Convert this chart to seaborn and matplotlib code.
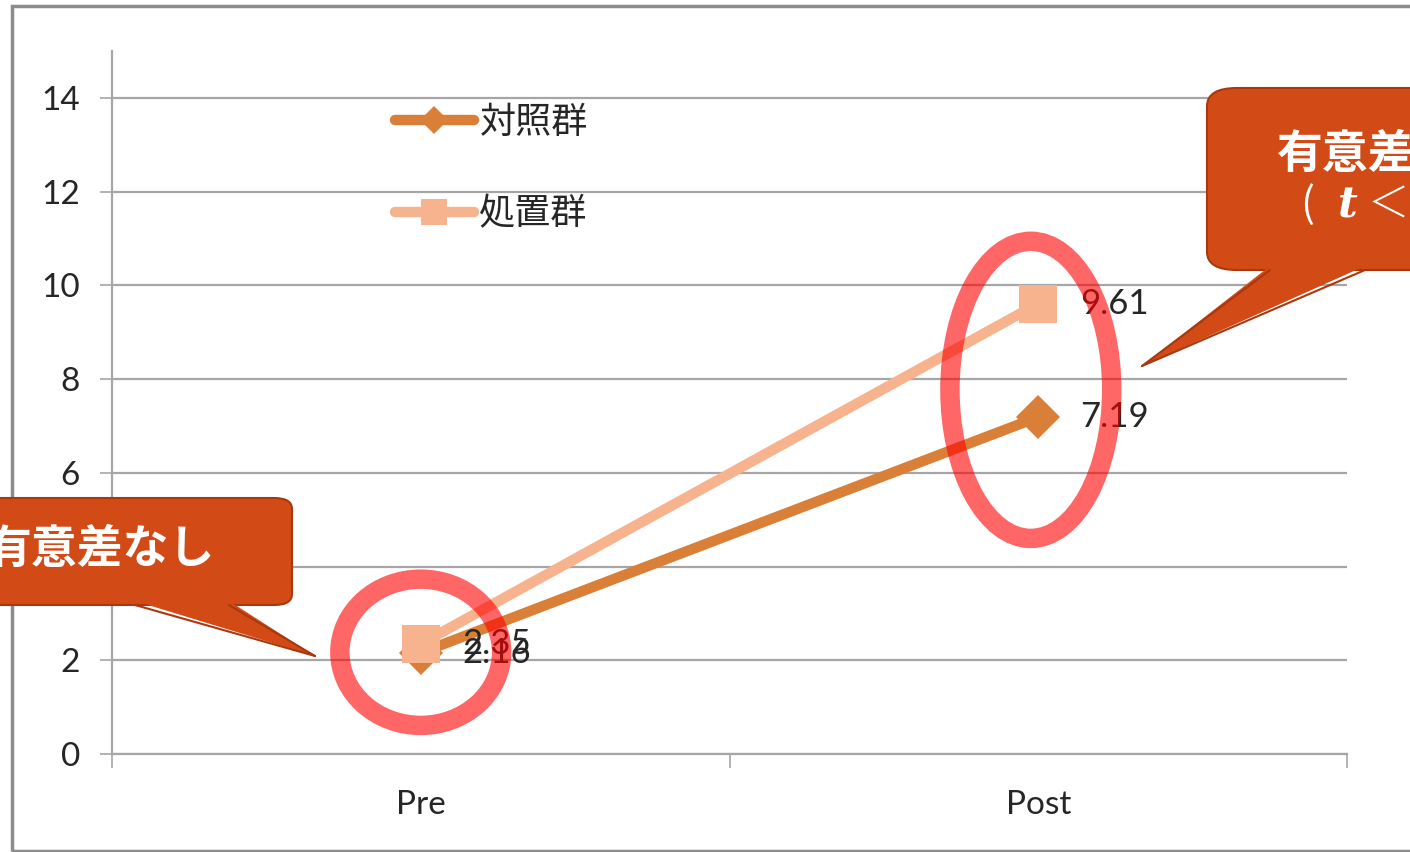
import matplotlib
matplotlib.use("Agg")
import matplotlib.pyplot as plt
import seaborn as sns
import pandas as pd
from matplotlib.patches import Ellipse, FancyBboxPatch, Polygon, Rectangle
from matplotlib.lines import Line2D

# ---- data ----
phases = ["Pre", "Post"]
control = [2.16, 7.19]
treatment = [2.35, 9.61]
series_names = ["対照群", "処置群"]
yticks = [0, 2, 4, 6, 8, 10, 12, 14]

sns.set_theme(style="white")
plt.rcParams["font.family"] = ["Lato", "Noto Sans CJK JP", "DejaVu Sans"]

W, H = 1410, 852
fig = plt.figure(figsize=(W / 100, H / 100), dpi=100)
fig.patch.set_facecolor("white")

def fx(px):
    return px / W

def fy(py):
    return 1 - py / H

ax = fig.add_axes([fx(112), fy(754), (1347 - 112) / W, (754 - 51) / H])

df = pd.DataFrame({
    "phase": phases * 2,
    "value": control + treatment,
    "group": [series_names[0]] * 2 + [series_names[1]] * 2,
})
colors = {series_names[0]: "#DA7F37", series_names[1]: "#F6B38E"}
markers = {series_names[0]: "D", series_names[1]: "s"}
msizes = {series_names[0]: 22, series_names[1]: 27}

for name in series_names:
    sub = df[df["group"] == name]
    sns.lineplot(data=sub, x="phase", y="value", ax=ax, color=colors[name],
                 linewidth=7.5, marker=markers[name], markersize=msizes[name],
                 markeredgewidth=0, legend=False, sort=False)

ax.set_xlim(-0.5, 1.5)
ax.set_ylim(0, 15)
ax.set_yticks(yticks)
ax.set_xticks(range(len(phases)))
ax.set_xticklabels(phases)
ax.set_xticks([-0.5, 0.5, 1.5], minor=True)
ax.set_xlabel("")
ax.set_ylabel("")

gc = "#A6A6A6"
ax.yaxis.grid(True, color=gc, linewidth=1.6)
ax.xaxis.grid(False)
ax.set_axisbelow(True)
for s in ["top", "right"]:
    ax.spines[s].set_visible(False)
for s in ["left", "bottom"]:
    ax.spines[s].set_color(gc)
    ax.spines[s].set_linewidth(1.6)

ax.tick_params(axis="y", which="major", left=True, length=9, width=1.2, color=gc,
               pad=14, labelsize=24, labelcolor="#262626")
ax.tick_params(axis="x", which="major", bottom=False, length=0, pad=26,
               labelsize=24, labelcolor="#262626")
ax.tick_params(axis="x", which="minor", bottom=True, length=10, width=1.2, color=gc)

# data labels
for vals, name in [(control, series_names[0]), (treatment, series_names[1])]:
    for i, v in enumerate(vals):
        ax.annotate(f"{v:.2f}", (i, v), xytext=(30, 0), textcoords="offset points",
                    va="center", ha="left", fontsize=25, color="#262626", zorder=6)

# legend
handles = [Line2D([], [], color=colors[n], linewidth=7.5, marker=markers[n],
                  markersize=(14 if n == series_names[0] else 19),
                  markeredgewidth=0, solid_capstyle="round") for n in series_names]
leg = ax.legend(handles, series_names, loc="upper left",
                bbox_to_anchor=(fx(362), fy(72)), bbox_transform=fig.transFigure,
                frameon=False, handlelength=2.2, handletextpad=0.15,
                labelspacing=1.55, prop={"family": ["Noto Sans CJK JP"], "size": 26})
for t in leg.get_texts():
    t.set_color("#262626")

# ellipses
ell_kw = dict(fill=False, edgecolor="#FF0000", alpha=0.6, linewidth=14, zorder=7)
ax.add_patch(Ellipse((0, 2.17), 0.262, 3.12, **ell_kw))
ax.add_patch(Ellipse((0.988, 7.77), 0.262, 6.34, **ell_kw))

# outer frame
fig.patches.append(Rectangle((fx(12), fy(851)), fx(1600), fy(6) - fy(851),
                             transform=fig.transFigure, fill=False,
                             edgecolor="#8C8C8C", linewidth=2.5, zorder=0))

# callouts
fill_c = "#D24B17"
edge_c = "#A9380F"

def callout(x0, y0, x1, y1, rad, tail_a, tail_b, tip):
    box = FancyBboxPatch((fx(x0), fy(y1)), fx(x1 - x0), fy(y0) - fy(y1),
                         boxstyle=f"round,pad=0,rounding_size={rad / W}",
                         transform=fig.transFigure, facecolor=fill_c,
                         edgecolor=edge_c, linewidth=1.5, zorder=10)
    fig.patches.append(box)
    pts = [(fx(tail_a), fy(y1 - 4)), (fx(tail_b), fy(y1 - 4)), (fx(tip[0]), fy(tip[1]))]
    fig.patches.append(Polygon(pts, closed=True, transform=fig.transFigure,
                               facecolor=fill_c, edgecolor="none", zorder=11))
    for xb in (tail_a, tail_b):
        fig.lines.append(Line2D([fx(xb), fx(tip[0])], [fy(y1), fy(tip[1])],
                                transform=fig.transFigure, color=edge_c,
                                linewidth=1.5, zorder=12))

callout(-30, 498, 292, 605, 18, 135, 229, (315, 656))
callout(1207, 88, 1600, 270, 30, 1270, 1365, (1142, 366))

tk = dict(color="white", fontweight="bold", family=["Noto Sans CJK JP"],
          fontsize=33, zorder=13, transform=fig.transFigure, va="center")
fig.text(fx(-14), fy(550), "有意差なし", ha="left", **tk)
fig.text(fx(1277), fy(155), "有意差あり", ha="left", **tk)
tk2 = dict(tk)
tk2["fontweight"] = "normal"
fig.text(fx(1300), fy(205), "(", ha="left", color="white", fontsize=30,
         family=["Noto Sans CJK JP"], zorder=13, transform=fig.transFigure, va="center")
fig.text(fx(1338), fy(206), "t", ha="left", color="white", fontsize=31,
         style="italic", fontweight="bold", family=["DejaVu Serif"], zorder=13,
         transform=fig.transFigure, va="center")
fig.text(fx(1368), fy(205), "＜0.05)", ha="left", color="white", fontsize=30,
         family=["Noto Sans CJK JP"], fontweight="light", zorder=13,
         transform=fig.transFigure, va="center")

fig.savefig("out.png", dpi=100)
